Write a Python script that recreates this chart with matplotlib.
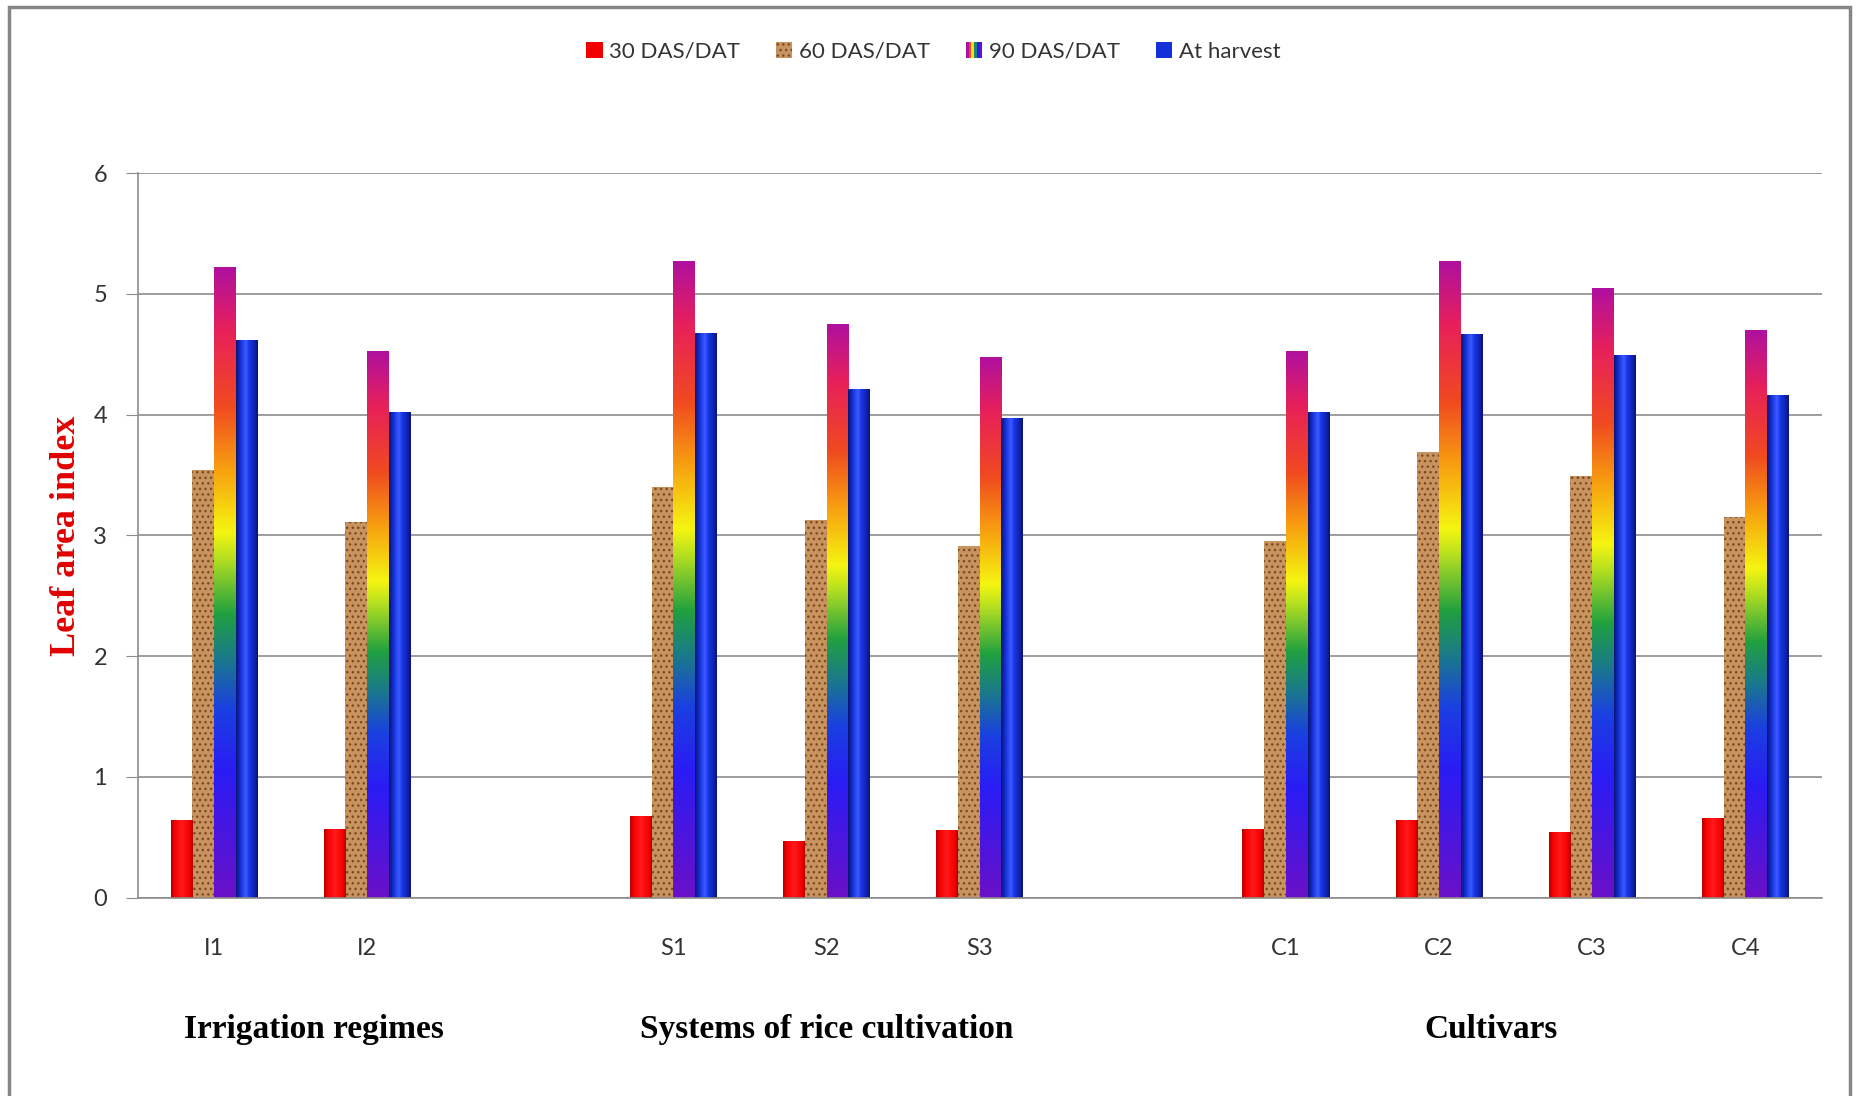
import numpy as np
import matplotlib
matplotlib.use('Agg')
import matplotlib.pyplot as plt
from matplotlib.colors import LinearSegmentedColormap
from matplotlib.patches import Patch, Rectangle
from matplotlib.legend_handler import HandlerBase
import matplotlib.transforms as mtransforms

# 数据
categories = ['I1', 'I2', '', 'S1', 'S2', 'S3', '', 'C1', 'C2', 'C3', 'C4']
das30 = [0.64, 0.57, np.nan, 0.68, 0.47, 0.56, np.nan, 0.57, 0.64, 0.54, 0.66]
das60 = [3.54, 3.11, np.nan, 3.40, 3.13, 2.91, np.nan, 2.95, 3.69, 3.49, 3.15]
das90 = [5.22, 4.53, np.nan, 5.27, 4.75, 4.48, np.nan, 4.53, 5.27, 5.05, 4.70]
harvest = [4.62, 4.02, np.nan, 4.68, 4.21, 3.97, np.nan, 4.02, 4.67, 4.49, 4.16]
series_names = ['30 DAS/DAT', '60 DAS/DAT', '90 DAS/DAT', 'At harvest']
group_names = ['Irrigation regimes', 'Systems of rice cultivation', 'Cultivars']
group_pos = [0.65, 4.0, 8.34]

# 颜色渐变
rainbow = LinearSegmentedColormap.from_list('rainbow_bar', [
    (0.00, '#6a10c8'), (0.20, '#2a1cf5'), (0.30, '#1a40e0'), (0.38, '#1a7a8a'),
    (0.45, '#20a040'), (0.54, '#b8e020'), (0.58, '#f5f510'), (0.68, '#f8a010'),
    (0.78, '#f04a20'), (0.90, '#e8205a'), (1.00, '#b0109f')])
bluebar = LinearSegmentedColormap.from_list('blue_bar', [
    (0.0, '#0a1470'), (0.2, '#1430d8'), (0.45, '#3a5cff'), (0.6, '#1a36e8'),
    (0.85, '#0e22b0'), (1.0, '#0a1470')])
redbar = LinearSegmentedColormap.from_list('red_bar', [
    (0.0, '#b00000'), (0.15, '#f50000'), (0.5, '#ff1a1a'), (0.85, '#f50000'),
    (1.0, '#b00000')])

fig = plt.figure(figsize=(18.59, 10.96), dpi=100)
ax = fig.add_axes([0.074, 0.181, 0.906, 0.661])

x = np.arange(len(categories))
w = 0.142
offsets = [-1.5 * w, -0.5 * w, 0.5 * w, 1.5 * w]

ax.set_axisbelow(True)
ax.yaxis.grid(True, color='#8c8c8c', linewidth=1.2)

bars30 = ax.bar(x + offsets[0], das30, w, color='#f00000', zorder=2)
bars60 = ax.bar(x + offsets[1], das60, w, color='#c8935e', edgecolor='#7a4a20',
                linewidth=0, hatch='...', zorder=2)
bars90 = ax.bar(x + offsets[2], das90, w, color='#f0a020', zorder=2)
barsh = ax.bar(x + offsets[3], harvest, w, color='#1430d8', zorder=2)

vgrad = np.linspace(0, 1, 256).reshape(-1, 1)
hgrad = np.linspace(0, 1, 64).reshape(1, -1)


def fill_bars(bars, img, cmap):
    for b in bars:
        h = b.get_height()
        if np.isnan(h):
            continue
        x0 = b.get_x()
        im = ax.imshow(img, cmap=cmap, extent=[x0, x0 + b.get_width(), 0, h],
                       origin='lower', aspect='auto', zorder=2.5,
                       interpolation='bilinear')
        im.set_clip_path(b)


fill_bars(bars30, hgrad, redbar)
fill_bars(bars90, vgrad, rainbow)
fill_bars(barsh, hgrad, bluebar)

ax.set_xlim(-0.5, len(categories) - 0.5)
ax.set_ylim(0, 6)
ax.set_yticks(range(0, 7))
ax.set_xticks(x)
ax.set_xticklabels(categories)

for s in ['top', 'right']:
    ax.spines[s].set_visible(False)
for s in ['left', 'bottom']:
    ax.spines[s].set_color('#8c8c8c')
    ax.spines[s].set_linewidth(1.2)

ax.tick_params(axis='y', length=9, color='#8c8c8c', pad=13, labelsize=17,
               labelcolor='#333333')
ax.tick_params(axis='x', length=0, pad=29, labelsize=17, labelcolor='#333333')
for lab in ax.get_xticklabels() + ax.get_yticklabels():
    lab.set_family('Lato')

ax.set_ylabel('Leaf area index', fontsize=26, fontweight='bold', color='#e00000',
              family='Liberation Serif', labelpad=7)

trans = mtransforms.blended_transform_factory(ax.transData, ax.transAxes)
for name, pos in zip(group_names, group_pos):
    ax.text(pos, -0.182, name, transform=trans, ha='center', va='center',
            fontsize=24, fontweight='bold', family='Liberation Serif')


class HandlerRainbow(HandlerBase):
    def create_artists(self, legend, orig_handle, xdescent, ydescent, width,
                       height, fontsize, trans):
        n = 6
        arts = []
        for i in range(n):
            r = Rectangle((-xdescent + i * width / n, -ydescent), width / n, height,
                          facecolor=rainbow(1 - i / (n - 1)), edgecolor='none',
                          transform=trans)
            arts.append(r)
        return arts


class RainbowProxy(Patch):
    pass


handles = [Patch(facecolor='#f00000'),
           Patch(facecolor='#c8935e', edgecolor='#7a4a20', linewidth=0, hatch='...'),
           RainbowProxy(),
           Patch(facecolor='#1430d8')]
leg = fig.legend(handles, series_names, loc='center', bbox_to_anchor=(0.502, 0.953),
                 ncol=4, frameon=False, handlelength=0.75, handleheight=0.75,
                 handletextpad=0.3, columnspacing=1.6,
                 prop={'family': 'Lato', 'size': 16},
                 handler_map={RainbowProxy: HandlerRainbow()})
for t in leg.get_texts():
    t.set_color('#333333')

# 外框
fig.patches.append(Rectangle((9 / 1859, -0.01), (1850 - 9) / 1859, 1 - 7 / 1096 + 0.01,
                             transform=fig.transFigure, fill=False,
                             edgecolor='#868686', linewidth=2.5))

fig.savefig('out.png', dpi=100)
